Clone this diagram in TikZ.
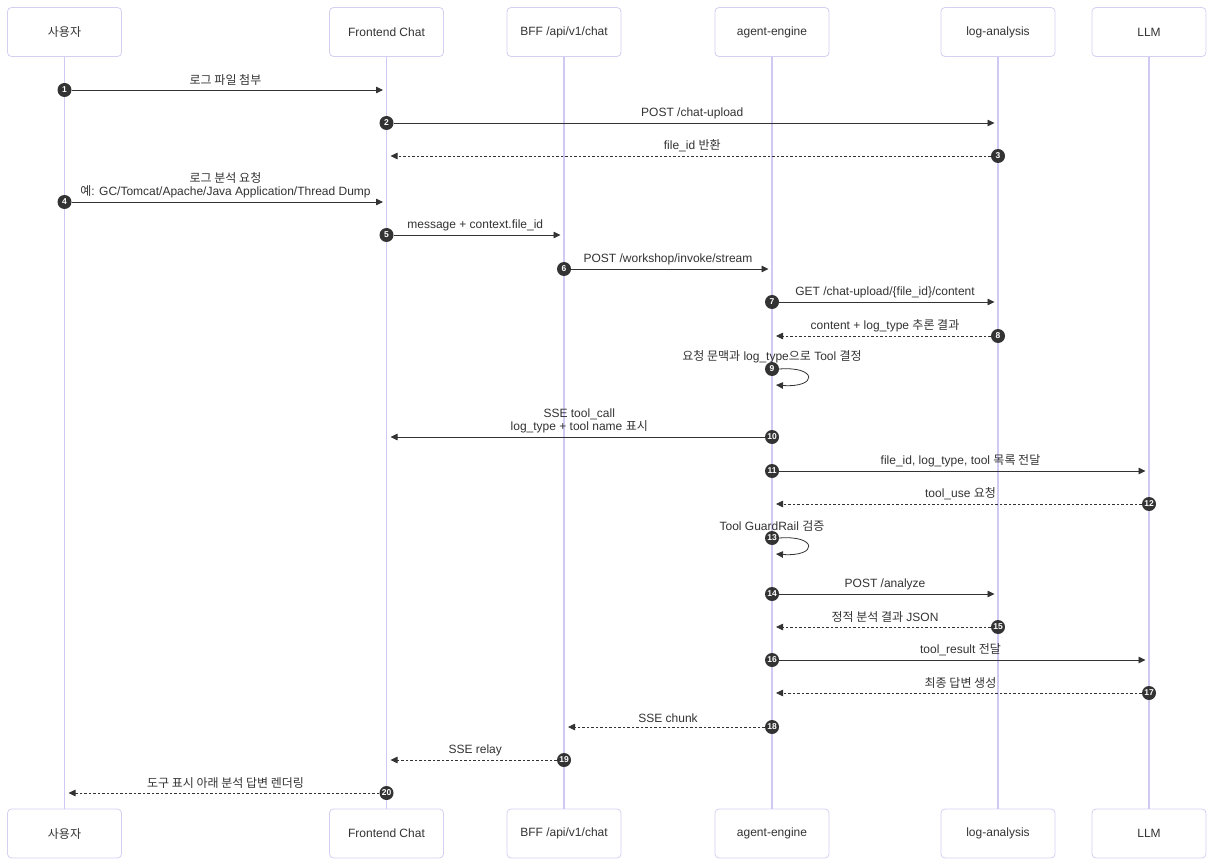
\documentclass[tikz,border=0pt]{standalone}
\usepackage{fontspec}
\setmainfont{Liberation Sans}
\newfontfamily\kr{Noto Sans CJK KR}
\usetikzlibrary{arrows.meta,calc}
\definecolor{ink}{HTML}{333333}
\definecolor{actbd}{HTML}{D4D0F2}
\definecolor{lifec}{HTML}{D0CAF2}
\newcommand\Msg[7]{%
  \node[num] (n#1) at (#3 |- 0,#2) {#1};
  \coordinate (e#1) at ($(#4 |- 0,#2)+(#6,0)$);
  \draw[#5] (n#1) -- (e#1);
  \node[lbl] (l#1) at ($(#3 |- 0,#2)!0.5!(#4 |- 0,#2)+(0,-4)$) {#7};
}
\newcommand\Loop[3]{%
  \node[num] (n#1) at (#3 |- 0,#2) {#1};
  \coordinate (e#1) at ($(#3 |- 0,#2)+(4,16)$);
  \draw[msg] (n#1.east) .. controls ($(n#1)+(46,-3)$) and ($(n#1)+(46,19)$) .. (e#1);
}
\begin{document}
\begin{tikzpicture}[x=1pt,y=-1pt,
  font=\fontsize{12}{13}\selectfont,
  actor/.style={draw=actbd, fill=white, rounded corners=4pt, minimum width=114pt,
    minimum height=49pt, text=ink, line width=0.8pt, inner sep=0pt},
  life/.style={draw=lifec, line width=1.1pt},
  msg/.style={draw=ink, line width=0.8pt, -{Triangle[length=7pt,width=6.5pt]}},
  ret/.style={msg, dash pattern=on 2.5pt off 2pt},
  num/.style={circle, fill=ink, inner sep=0pt, minimum size=14pt, text=white,
    font=\bfseries\fontsize{8.5}{8.5}\selectfont},
  lbl/.style={text=ink, align=center, anchor=south, inner sep=0pt}]
\useasboundingbox[fill=white] (0,0) rectangle (1214,866);
% actors
\node[actor] (uT) at (64.5,32) {{\kr 사용자}};
\node[actor] (fT) at (386.5,32) {Frontend Chat};
\node[actor] (bT) at (564,32) {BFF /api/v1/chat};
\node[actor] (aT) at (772,32) {agent-engine};
\node[actor] (lT) at (998,32) {log-analysis};
\node[actor] (mT) at (1149,32) {LLM};
\node[actor] (uB) at (64.5,833.5) {{\kr 사용자}};
\node[actor] (fB) at (386.5,833.5) {Frontend Chat};
\node[actor] (bB) at (564,833.5) {BFF /api/v1/chat};
\node[actor] (aB) at (772,833.5) {agent-engine};
\node[actor] (lB) at (998,833.5) {log-analysis};
\node[actor] (mB) at (1149,833.5) {LLM};
\foreach \p in {u,f,b,a,l,m} \draw[life] (\p T) -- (\p B);
% messages
\Msg{1}{90}{uT}{fT}{msg}{-3.5}{{\kr 로그 파일 첨부}}
\Msg{2}{123}{fT}{lT}{msg}{-3.5}{POST /chat-upload}
\Msg{3}{156}{lT}{fT}{ret}{4}{file\_id {\kr 반환}}
\Msg{4}{202}{uT}{fT}{msg}{-3.5}{{\kr 로그 분석 요청}\\{\kr 예}: GC/Tomcat/Apache/Java Application/Thread Dump}
\Msg{5}{235}{fT}{bT}{msg}{-3.5}{message + context.file\_id}
\Msg{6}{269}{bT}{aT}{msg}{-3.5}{POST /workshop/invoke/stream}
\Msg{7}{302}{aT}{lT}{msg}{-3.5}{GET /chat-upload/\{file\_id\}/content}
\Msg{8}{336}{lT}{aT}{ret}{4}{content + log\_type {\kr 추론 결과}}
\Loop{9}{369}{aT}
\node[lbl] (l9) at ($(aT |- 0,369)+(0,-6)$) {{\kr 요청 문맥과} log\_type{\kr 으로} Tool {\kr 결정}};
\Msg{10}{437}{aT}{fT}{msg}{4}{SSE tool\_call\\log\_type + tool name {\kr 표시}}
\Msg{11}{471}{aT}{mT}{msg}{-3.5}{file\_id, log\_type, tool {\kr 목록 전달}}
\Msg{12}{504}{mT}{aT}{ret}{4}{tool\_use {\kr 요청}}
\Loop{13}{538}{aT}
\node[lbl] (l13) at ($(aT |- 0,538)+(0,-6)$) {Tool GuardRail {\kr 검증}};
\Msg{14}{594}{aT}{lT}{msg}{-3.5}{POST /analyze}
\Msg{15}{627}{lT}{aT}{ret}{4}{{\kr 정적 분석 결과} JSON}
\Msg{16}{660}{aT}{mT}{msg}{-3.5}{tool\_result {\kr 전달}}
\Msg{17}{693}{mT}{aT}{ret}{4}{{\kr 최종 답변 생성}}
\Msg{18}{727}{aT}{bT}{ret}{4}{SSE chunk}
\Msg{19}{760}{bT}{fT}{ret}{4}{SSE relay}
\Msg{20}{793}{fT}{uT}{ret}{4}{{\kr 도구 표시 아래 분석 답변 렌더링}}
\end{tikzpicture}
\end{document}
